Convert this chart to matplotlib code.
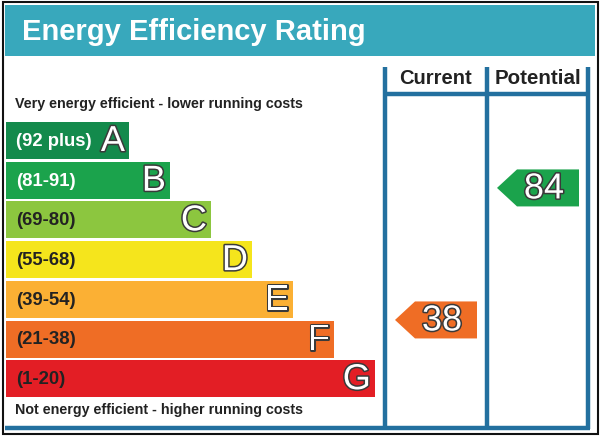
import matplotlib
matplotlib.use("Agg")
import matplotlib.pyplot as plt
from matplotlib.patches import Rectangle, Polygon
import matplotlib.patheffects as pe

# ---- data ----
bands = ["A", "B", "C", "D", "E", "F", "G"]
ranges = ["(92 plus)", "(81-91)", "(69-80)", "(55-68)", "(39-54)", "(21-38)", "(1-20)"]
band_colors = ["#138a4c", "#1ba34c", "#8cc63f", "#f5e51c", "#fbb034", "#ef6d25", "#e31e25"]
range_text_colors = ["white", "white", "#222222", "#222222", "#222222", "#222222", "#222222"]
current_value = 38
potential_value = 84
current_color = "#ef6d25"
potential_color = "#1ba34c"
title = "Energy Efficiency Rating"
top_note = "Very energy efficient - lower running costs"
bottom_note = "Not energy efficient - higher running costs"

W, H = 602, 437
fig = plt.figure(figsize=(W / 100, H / 100), dpi=100)
ax = fig.add_axes([0, 0, 1, 1])
ax.set_xlim(0, W)
ax.set_ylim(H, 0)
ax.axis("off")

FONT = "Liberation Sans"
TEAL = "#38a8bc"
BLUE = "#23709f"

# outer frame
ax.add_patch(Rectangle((3, 2), 595, 432, fill=False, ec="#111111", lw=1.5))
# header band
ax.add_patch(Rectangle((5, 5), 590, 51, fc=TEAL, ec="none"))
ax.text(22, 32, title, color="white", fontsize=21, fontweight="bold",
        family=FONT, va="center", ha="left")

# column lines
col_x = [385, 487, 588]
for x in col_x:
    ax.plot([x, x], [67, 429], color=BLUE, lw=3.2, solid_capstyle="butt")
ax.plot([385, 588], [94, 94], color=BLUE, lw=3.2, solid_capstyle="butt")
ax.plot([5, 590], [428, 428], color=BLUE, lw=3.2, solid_capstyle="butt")

ax.text(435.5, 79, "Current", fontsize=14.5, fontweight="bold", family=FONT,
        color="#222222", ha="center", va="center")
ax.text(537.5, 79, "Potential", fontsize=14.8, fontweight="bold", family=FONT,
        color="#222222", ha="center", va="center")

ax.text(15, 104, top_note, fontsize=10.3, fontweight="bold", family=FONT,
        color="#222222", ha="left", va="center")
ax.text(15, 410, bottom_note, fontsize=10.3, fontweight="bold", family=FONT,
        color="#222222", ha="left", va="center")

# bands
bar_left = 6
bar_h = 37
stroke = [pe.withStroke(linewidth=2.2, foreground="#3a3a3a")]
for i, (b, r, c, tc) in enumerate(zip(bands, ranges, band_colors, range_text_colors)):
    yc = 140.5 + 39.7 * i
    right = 129 + 41 * i
    ax.barh(yc, right - bar_left, left=bar_left, height=bar_h, color=c, edgecolor="none")
    ax.text(16, yc + 1, r, fontsize=13.3, fontweight="bold", family=FONT, color=tc,
            ha="left", va="center")
    ax.text(right - 4, yc + 1, b, fontsize=26, family=FONT, color="white",
            ha="right", va="center", path_effects=stroke)

# value -> vertical position
def val_y(v):
    return 429 - 2.87 * v

def arrow(x_tip, v, color):
    yc = val_y(v)
    h = 37
    w = 82
    d = 20
    pts = [(x_tip, yc), (x_tip + d, yc - h / 2), (x_tip + w, yc - h / 2),
           (x_tip + w, yc + h / 2), (x_tip + d, yc + h / 2)]
    ax.add_patch(Polygon(pts, closed=True, fc=color, ec="none"))
    ax.text(x_tip + 47, yc + 1, str(v), fontsize=26, family=FONT, color="white",
            ha="center", va="center", path_effects=stroke)

arrow(395, current_value, current_color)
arrow(497, potential_value, potential_color)

fig.savefig("out.png", dpi=100)
